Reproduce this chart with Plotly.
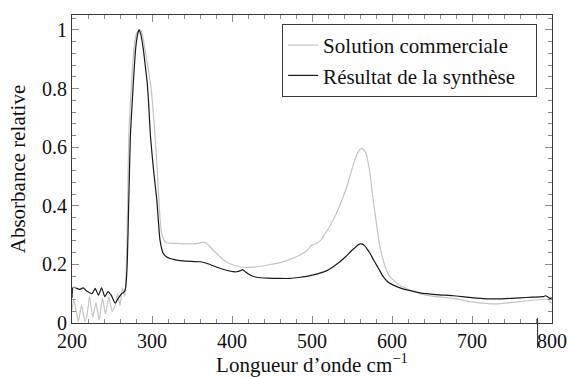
import plotly.graph_objects as go

# Résultat de la synthèse (black)
synth_x = [200, 201, 203, 206, 210, 214, 218, 221, 225, 229, 233, 237, 241, 245, 249, 254, 258, 262, 265, 267,
           269, 271, 273, 275, 277, 279.6, 282, 283.75, 286, 289, 291.5, 294, 296, 298, 302, 306, 310, 314, 318,
           322.5, 328, 335, 345, 360, 368, 376, 385, 393, 401.6, 406, 410, 413, 416, 422.5, 431, 445, 460, 472.5,
           485, 495, 501.6, 510, 518, 526.6, 534, 542, 548, 553.75, 557, 560, 563, 566, 569, 572.5, 577, 583, 589,
           595, 601, 610, 620, 635, 655, 676.6, 701.6, 731, 760, 775, 789, 792, 795, 797.5, 800]
synth_y = [0.085, 0.12, 0.122, 0.118, 0.115, 0.12, 0.11, 0.105, 0.10, 0.118, 0.095, 0.12, 0.09, 0.107, 0.095, 0.068,
           0.085, 0.10, 0.105, 0.12, 0.2, 0.42, 0.64, 0.74, 0.835, 0.937, 0.985, 1.0, 0.985, 0.937, 0.88, 0.82, 0.74,
           0.64, 0.52, 0.42, 0.283, 0.238, 0.226, 0.22, 0.216, 0.213, 0.211, 0.209, 0.204, 0.196, 0.187, 0.18, 0.175,
           0.175, 0.178, 0.182, 0.176, 0.164, 0.156, 0.153, 0.152, 0.152, 0.156, 0.16, 0.164, 0.17, 0.178, 0.192,
           0.207, 0.226, 0.243, 0.257, 0.265, 0.27, 0.269, 0.263, 0.252, 0.238, 0.215, 0.187, 0.158, 0.14, 0.13,
           0.12, 0.112, 0.103, 0.097, 0.093, 0.086, 0.082, 0.086, 0.088, 0.09, 0.093, 0.088, 0.084, 0.086]

# Solution commerciale (gray)
comm_x = [200, 202, 204, 208, 212, 216, 219, 222, 226, 230, 234, 238, 242, 246, 250, 254, 257, 260, 263, 266, 268,
          269.5, 271, 274, 277.5, 281, 285, 288, 291, 294.5, 298, 301, 303.75, 306, 308, 310, 312, 315, 318, 326.6,
          335, 347.5, 357, 364, 368, 376, 385, 393, 401.6, 410, 420, 431, 445, 460, 472.5, 485, 495, 499.6, 505.9,
          510, 514, 520, 526.6, 533, 539, 544, 549.6, 554, 557.9, 562, 565, 567.5, 570, 572.5, 575.5, 578.8, 582,
          585, 589, 593, 597, 601.6, 610, 620, 635, 655, 676.6, 701.6, 731, 760, 789, 795, 799.6]
comm_y = [0.045, 0.078, 0.06, 0.005, 0.062, 0.005, 0.03, 0.09, 0.02, 0.07, 0.01, 0.085, 0.03, 0.09, 0.04, 0.06, 0.10,
          0.06, 0.12, 0.09, 0.2, 0.4, 0.64, 0.8, 0.937, 0.99, 1.0, 0.985, 0.937, 0.88, 0.82, 0.74, 0.64, 0.55, 0.45,
          0.36, 0.306, 0.283, 0.274, 0.272, 0.271, 0.27, 0.272, 0.275, 0.272, 0.25, 0.226, 0.208, 0.198, 0.192, 0.19,
          0.192, 0.198, 0.206, 0.217, 0.232, 0.25, 0.266, 0.272, 0.28, 0.295, 0.32, 0.352, 0.39, 0.431, 0.47, 0.522,
          0.56, 0.585, 0.596, 0.59, 0.579, 0.55, 0.511, 0.44, 0.374, 0.31, 0.26, 0.215, 0.181, 0.16, 0.147, 0.128,
          0.115, 0.099, 0.09, 0.084, 0.071, 0.065, 0.073, 0.081, 0.08, 0.067]

series_names = ["Solution commerciale", "Résultat de la synthèse"]
x_ticks = [200, 300, 400, 500, 600, 700, 800]
y_ticks = [0, 0.2, 0.4, 0.6, 0.8, 1]

FONT = "Liberation Serif"
AX = "#3a3a3a"
PAD = "\u00a0\u00a0\u00a0"  # right padding inside the legend box

fig = go.Figure()
fig.add_trace(go.Scatter(x=comm_x, y=comm_y, mode="lines", name=series_names[0] + PAD,
                         line=dict(color="#c4c4c4", width=1.2, shape="spline", smoothing=0.5)))
fig.add_trace(go.Scatter(x=synth_x, y=synth_y, mode="lines", name=series_names[1] + PAD,
                         line=dict(color="#1a1a1a", width=1.2, shape="spline", smoothing=0.5)))

axis_common = dict(showgrid=False, zeroline=False, showline=True, linecolor=AX, linewidth=1,
                   ticks="inside", tickcolor="#8a8a8a", tickwidth=1, mirror="ticks", automargin=False,
                   tickfont=dict(family=FONT, size=20, color="#111"))

fig.update_xaxes(range=[200, 800], tickvals=x_ticks, ticklen=7,
                 minor=dict(ticks="inside", dtick=20, ticklen=4, tickcolor="#8a8a8a"),
                 title=dict(text="Longueur d’onde cm<sup>−1</sup>", font=dict(family=FONT, size=21, color="#111"),
                            standoff=8),
                 **axis_common)
fig.update_yaxes(range=[0, 1.051], tickvals=y_ticks, ticklen=7,
                 minor=dict(ticks="inside", dtick=0.04, ticklen=4, tickcolor="#8a8a8a"),
                 title=dict(text="Absorbance relative", font=dict(family=FONT, size=21, color="#111"),
                            standoff=10),
                 **axis_common)

fig.add_shape(type="line", xref="x", yref="paper", x0=782, x1=782, y0=-0.081, y1=0.016,
              line=dict(color="#222", width=1))

fig.update_layout(
    width=568, height=377,
    margin=dict(l=72, r=16, t=15, b=54),
    plot_bgcolor="white", paper_bgcolor="white",
    font=dict(family=FONT, size=20, color="#111"),
    legend=dict(x=0.969, y=0.971, xanchor="right", yanchor="top",
                bordercolor=AX, borderwidth=1, bgcolor="white",
                font=dict(family=FONT, size=21, color="#111"),
                tracegroupgap=0, itemwidth=30),
    showlegend=True,
)

fig.write_html("out.html")
